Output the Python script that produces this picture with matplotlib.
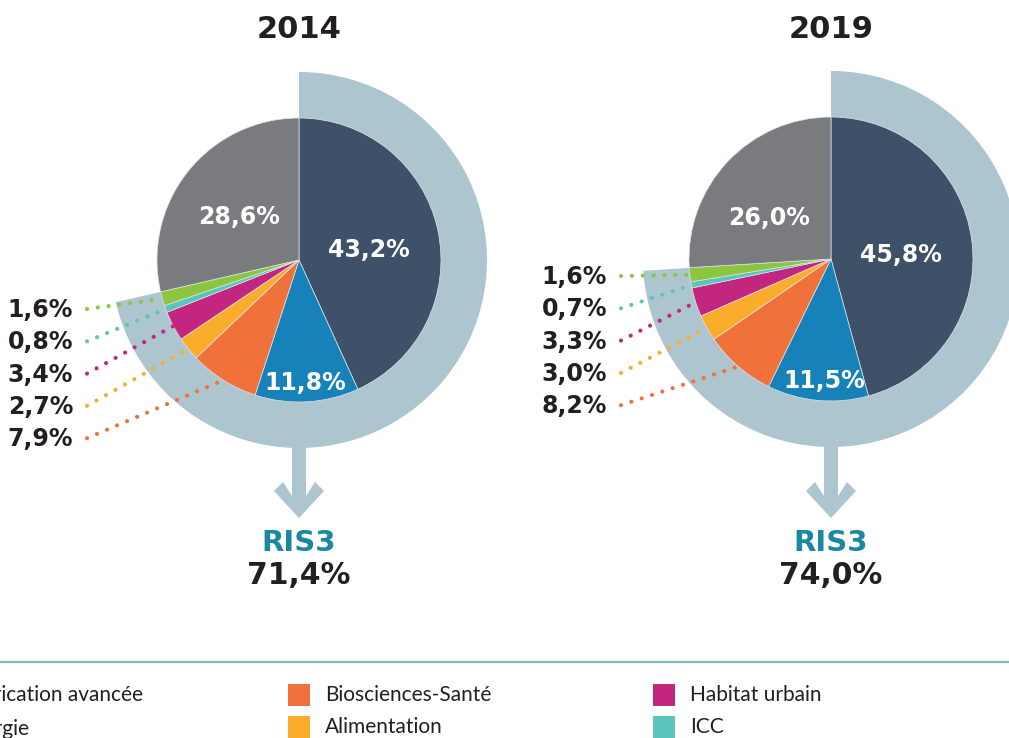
import matplotlib.pyplot as plt
from matplotlib.patches import Wedge, Polygon, Rectangle
import numpy as np

# Données (parts en %)
years = ["2014", "2019"]
categories = ["Fabrication avancée", "Énergie", "Biosciences-Santé", "Alimentation",
              "Habitat urbain", "ICC", "Autres RIS3", "Hors RIS3"]
values_2014 = [43.2, 11.8, 7.9, 2.7, 3.4, 0.8, 1.6, 28.6]
values_2019 = [45.8, 11.5, 8.2, 3.0, 3.3, 0.7, 1.6, 26.0]
ris3_total = [71.4, 74.0]

colors = ["#3e5169", "#1682b9", "#f1713b", "#faad2b", "#c3267f", "#5bc4bc", "#8cc540", "#7a7b7f"]
ring_color = "#adc5cf"
teal_txt = "#1a87a3"
dark = "#231f20"
num_font = "DejaVu Sans"

W, H = 1009, 738


def Y(y):
    # coordonnées pixel (origine en haut) -> coordonnées de l'axe
    return H - y


def fmt(v):
    return f"{v:.1f}".replace(".", ",") + "%"


fig = plt.figure(figsize=(W / 100, H / 100), dpi=100)
ax = fig.add_axes([0, 0, 1, 1])

centers = [(299, 260), (831, 259)]
radius = 142
ring_r = 188
label_right = [73, 607]
label_top = [310, 277]
inner_dist = [0.5, 0.83, 0.54]  # navy, bleu, gris
# petits décalages (px) des étiquettes intérieures, par année
nudge = [[(0, 0), (0, 0), (0, 0)], [(0, 0), (4, 0), (-6, -7)]]
big = 17

for k, vals in enumerate([values_2014, values_2019]):
    cx, cy = centers[k]
    c = (cx, Y(cy))

    # anneau RIS3
    ring = Wedge(c, ring_r, 90 - 360 * ris3_total[k] / 100, 90, color=ring_color, zorder=1, lw=0)
    ax.add_patch(ring)

    wedges, _ = ax.pie(vals, colors=colors, startangle=90, counterclock=False,
                       radius=radius, center=c,
                       wedgeprops=dict(edgecolor="#dfe6ea", linewidth=0.5, zorder=2))
    for w in wedges:
        w.set_zorder(2)

    mids = [np.deg2rad((w.theta1 + w.theta2) / 2) for w in wedges]

    # étiquettes intérieures
    for n, (idx, d) in enumerate(zip([0, 1, 7], inner_dist)):
        a = mids[idx]
        dx, dy = nudge[k][n]
        ax.text(c[0] + d * radius * np.cos(a) + dx, c[1] + d * radius * np.sin(a) - 5 + dy,
                fmt(vals[idx]), color="white", fontsize=big, fontweight="bold",
                family=num_font, ha="center", va="center", zorder=4)

    # petites parts avec lignes pointillées
    small = [6, 5, 4, 3, 2]
    for j, idx in enumerate(small):
        ly = label_top[k] + j * 32.3
        ax.text(label_right[k], Y(ly), fmt(vals[idx]), color=dark, fontsize=big,
                fontweight="bold", family=num_font, ha="right", va="center", zorder=4)
        a = mids[idx]
        ax.plot([label_right[k] + 14, c[0] + radius * np.cos(a)],
                [Y(ly) + 1, c[1] + radius * np.sin(a)],
                color=colors[idx], lw=3.0, linestyle=(0, (0.01, 2.6)),
                dash_capstyle="round", zorder=3)

    # titre
    ax.text(cx, Y(30), years[k], color=dark, fontsize=22, fontweight="bold",
            family=num_font, ha="center", va="center")

    # flèche
    hw = 7
    arrow = Polygon([(cx - hw, Y(440)), (cx - hw, Y(496)), (cx - 16, Y(482)), (cx - 25, Y(491)),
                     (cx, Y(518)), (cx + 25, Y(491)), (cx + 16, Y(482)), (cx + hw, Y(496)),
                     (cx + hw, Y(440))], closed=True, color=ring_color, lw=0, zorder=1)
    ax.add_patch(arrow)

    ax.text(cx, Y(543), "RIS3", color=teal_txt, fontsize=21, fontweight="bold",
            family=num_font, ha="center", va="center")
    ax.text(cx, Y(576), fmt(ris3_total[k]), color=dark, fontsize=21.5, fontweight="bold",
            family=num_font, ha="center", va="center")

# séparateur
ax.plot([0, W], [Y(662), Y(662)], color="#86b5c1", lw=1.6)

# légende
for i, name in enumerate(categories[:6]):
    col, row = i // 2, i % 2
    x0 = -40 + 365 * col
    y0 = 695 + 32 * row
    ax.add_patch(Rectangle((x0 - 37, Y(y0 + 11)), 22, 22, color=colors[i], lw=0))
    ax.text(x0, Y(y0), name, color=dark, fontsize=15, family="Lato",
            ha="left", va="center")

ax.set_xlim(0, W)
ax.set_ylim(0, H)
ax.set_aspect("equal")
ax.axis("off")

fig.savefig("out.png", dpi=100)
